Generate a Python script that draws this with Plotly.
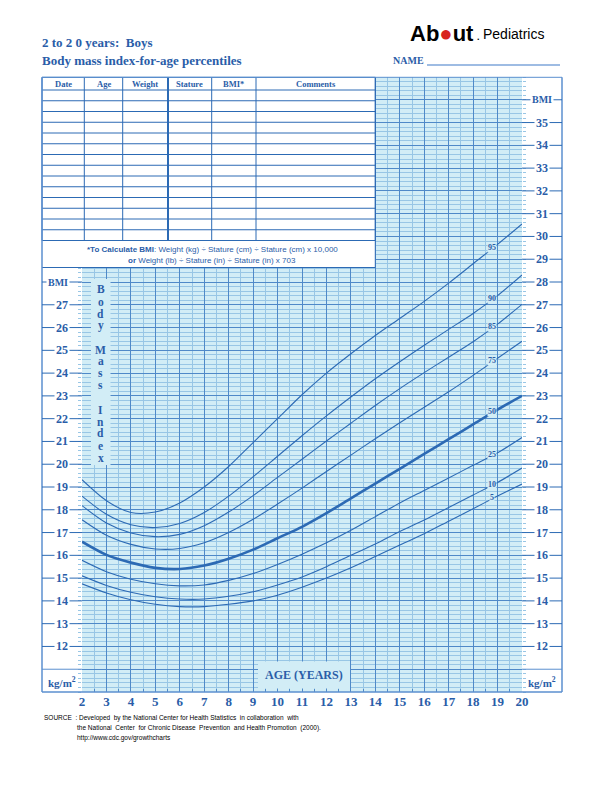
import numpy as np
import plotly.graph_objects as go

# percentile curves, BMI (kg/m2) at whole years
ages = [2, 3, 4, 5, 6, 7, 8, 9, 10, 11, 12, 13, 14, 15, 16, 17, 18, 19, 20]
p5 = [14.75, 14.35, 14.05, 13.85, 13.75, 13.75, 13.85, 14.00, 14.25, 14.60, 15.00, 15.45, 15.95, 16.45, 16.95, 17.50, 18.05, 18.60, 19.13]
p10 = [15.10, 14.68, 14.38, 14.18, 14.08, 14.08, 14.20, 14.40, 14.70, 15.05, 15.50, 16.00, 16.50, 17.05, 17.55, 18.10, 18.65, 19.20, 19.83]
p25 = [15.78, 15.28, 14.95, 14.75, 14.66, 14.70, 14.90, 15.20, 15.60, 16.05, 16.55, 17.10, 17.70, 18.30, 18.85, 19.40, 19.95, 20.50, 21.17]
p50 = [16.60, 16.02, 15.68, 15.45, 15.40, 15.55, 15.85, 16.25, 16.75, 17.25, 17.85, 18.50, 19.15, 19.80, 20.45, 21.10, 21.75, 22.40, 23.00]
p75 = [17.56, 16.88, 16.48, 16.28, 16.30, 16.55, 17.00, 17.58, 18.25, 18.95, 19.68, 20.40, 21.12, 21.82, 22.50, 23.18, 23.90, 24.65, 25.40]
p85 = [18.18, 17.42, 16.98, 16.82, 16.92, 17.30, 17.90, 18.62, 19.42, 20.22, 21.02, 21.80, 22.58, 23.32, 24.02, 24.70, 25.38, 26.15, 27.02]
p90 = [18.60, 17.80, 17.34, 17.22, 17.40, 17.88, 18.60, 19.45, 20.35, 21.25, 22.12, 22.95, 23.75, 24.50, 25.22, 25.92, 26.62, 27.40, 28.31]
p95 = [19.32, 18.40, 17.88, 17.90, 18.30, 19.00, 19.90, 20.95, 22.00, 23.05, 24.00, 24.85, 25.65, 26.40, 27.15, 27.95, 28.80, 29.65, 30.55]

curves = [('5', p5), ('10', p10), ('25', p25), ('50', p50),
          ('75', p75), ('85', p85), ('90', p90), ('95', p95)]

age_ticks = list(range(2, 21))
bmi_left = list(range(12, 28))
bmi_right = list(range(12, 36))
headers = ['Date', 'Age', 'Weight', 'Stature', 'BMI*', 'Comments']
side_word = 'Body Mass Index'

BLUE = '#2a5da8'
LINE = '#2c6ab4'
FRAME = '#5b8fcf'
BG = '#d2edf6'
GMAJ = '#4f89c8'
GMIN = '#98c6e5'
SERIF = 'Liberation Serif'
SANS = 'Liberation Sans'

W, H = 612, 792
L, R, T, B = 82, 90, 77, 100


def px(x):
    return (x - L) / (W - L - R)


def py(y):
    return (H - B - y) / (H - T - B)


def by(v):
    return (v - 10) / 27.0


def line(x0, y0, x1, y1, color=FRAME, width=1):
    return dict(type='line', xref='paper', yref='paper', x0=x0, y0=y0, x1=x1, y1=y1,
                line=dict(color=color, width=width), layer='above')


def rect(x0, y0, x1, y1, fill):
    return dict(type='rect', xref='paper', yref='paper', x0=x0, y0=y0, x1=x1, y1=y1,
                fillcolor=fill, line=dict(width=0), layer='above')


def text(x, y, s, size=9, color=BLUE, family=SERIF, weight='bold', **kw):
    a = dict(xref='paper', yref='paper', x=x, y=y, text=s, showarrow=False,
             xanchor='center', yanchor='middle',
             font=dict(family=family, size=size, color=color, weight=weight))
    a.update(kw)
    return a


fig = go.Figure()

for name, vals in curves:
    fig.add_trace(go.Scatter(x=ages, y=vals, mode='lines', hoverinfo='skip', showlegend=False,
                             line=dict(color=LINE, width=2.6 if name == '50' else 1.1,
                                       shape='spline', smoothing=0.8)))

shapes = []
ann = []

# white table over the upper-left of the grid
tx = [42, 84.3, 122.7, 168, 211.7, 256, 375.3]
ty = [77.3, 90] + [90 + 10.75 * i for i in range(1, 15)]
shapes.append(rect(px(42), py(77.3), px(375.3), py(267.5), 'white'))
for x in tx:
    shapes.append(line(px(x), py(77.3), px(x), py(ty[-1]), LINE, 2 if x == 168 else 1))
for y in ty:
    shapes.append(line(px(42), py(y), px(375.3), py(y), LINE, 1))
shapes.append(line(px(375.3), py(77.3), px(375.3), py(267.5), LINE, 1))
shapes.append(line(px(42), py(267.5), px(375.3), py(267.5), LINE, 1))
for i, h in enumerate(headers):
    ann.append(text(px((tx[i] + tx[i + 1]) / 2), py(84), h, size=8.5))
ann.append(text(px(212), py(250), '<b>*To Calculate BMI</b>: Weight (kg) ÷ Stature (cm) ÷ Stature (cm) x 10,000',
                size=8, family=SANS, weight='normal'))
ann.append(text(px(212), py(260), '<b>or</b> Weight (lb) ÷ Stature (in) ÷ Stature (in) x 703',
                size=8, family=SANS, weight='normal'))

# outer frame and side columns
shapes.append(line(px(42), py(77.3), px(562), py(77.3)))
shapes.append(line(px(42), py(77.3), px(42), py(692), width=1.5))
shapes.append(line(px(562), py(77.3), px(562), py(692), width=1.5))
shapes.append(line(px(42), py(692), px(562), py(692), width=1.5))
shapes.append(line(px(42), by(11), px(82), by(11)))
shapes.append(line(px(522), by(11), px(562), by(11)))

for v in bmi_left:
    shapes.append(line(px(42), by(v), px(82), by(v), LINE, 1))
    ann.append(text(px(62), by(v), str(v), size=12, bgcolor='white', borderpad=1))
shapes.append(line(px(42), by(28), px(82), by(28), LINE, 1))
ann.append(text(px(58), by(28), 'BMI', size=10, bgcolor='white', borderpad=1))
for v in bmi_right:
    shapes.append(line(px(522), by(v), px(562), by(v), LINE, 1))
    ann.append(text(px(542), by(v), str(v), size=12, bgcolor='white', borderpad=1))
shapes.append(line(px(522), by(36), px(562), by(36), LINE, 1))
ann.append(text(px(542), by(36), 'BMI', size=10, bgcolor='white', borderpad=1))
ann.append(text(px(62), py(682), 'kg/m<sup>2</sup>', size=11))
ann.append(text(px(542), py(682), 'kg/m<sup>2</sup>', size=11))

# "Body Mass Index" column
shapes.append(rect(px(91), py(279), px(110.5), py(465), BG))
letter_y = [289, 302, 313.5, 325.5, None, 350, 361, 373, 385, None, 409.5, 421.5, 433.5, 446, 458]
for ch, y in zip(side_word, letter_y):
    if y is not None:
        ann.append(text(px(100.5), py(y), ch, size=11.5))

# AGE (YEARS) box
shapes.append(rect(px(258), py(661.5), px(350), py(688.5), BG))
ann.append(text(px(304), py(675), 'AGE (YEARS)', size=12))

# percentile labels on the curves
for name, vals in curves:
    ann.append(dict(x=18.78, y=float(np.interp(18.78, ages, vals)) + 0.05, xref='x', yref='y',
                    text=name, showarrow=False, bgcolor=BG, borderpad=0,
                    xanchor='center', yanchor='middle',
                    font=dict(family=SERIF, size=8, color=BLUE, weight='bold')))

# header
ann.append(text(px(40), py(42), '2 to 2 0 years:  Boys', size=13, xanchor='left'))
ann.append(text(px(40), py(60), 'Body mass index-for-age percentiles', size=13, xanchor='left'))
ann.append(text(px(391), py(61), 'NAME', size=10, xanchor='left'))
shapes.append(line(px(427), py(65), px(560), py(65), '#7ea6da', 1.5))
ann.append(text(px(408), py(33), 'Ab<span style="color:#d8231b">●</span>ut', size=22, color='black',
                family=SANS, xanchor='left'))
ann.append(text(px(475), py(37), '.', size=9, color='black', family=SANS, xanchor='left'))
ann.append(text(px(481), py(34), 'Pediatrics', size=14, color='black', family=SANS,
                weight='normal', xanchor='left'))

# source
ann.append(text(px(42), py(718), 'SOURCE  : Developed  by the National Center for Health Statistics  in collaboration  with',
                size=6.5, color='black', family=SANS, weight='normal', xanchor='left'))
ann.append(text(px(75), py(728), 'the National  Center  for Chronic Disease  Prevention  and Health Promotion  (2000).',
                size=6.5, color='black', family=SANS, weight='normal', xanchor='left'))
ann.append(text(px(75), py(738), 'http://www.cdc.gov/growthcharts',
                size=6.5, color='black', family=SANS, weight='normal', xanchor='left'))

fig.update_layout(
    width=W, height=H, margin=dict(l=L, r=R, t=T, b=B, pad=0),
    paper_bgcolor='white', plot_bgcolor=BG,
    shapes=shapes, annotations=ann,
    xaxis=dict(range=[2, 20], tickvals=age_ticks, showline=False, zeroline=False,
               showgrid=True, gridcolor=GMAJ, gridwidth=1.2,
               ticks='inside', ticklen=4, tickcolor=GMAJ,
               tickfont=dict(family=SERIF, size=13, color=BLUE, weight='bold'),
               minor=dict(dtick=0.5, showgrid=True, gridcolor=GMIN, gridwidth=0.8,
                          ticks='inside', ticklen=3, tickcolor=GMAJ)),
    yaxis=dict(range=[10, 37], dtick=1, showticklabels=False, showline=False, zeroline=False,
               showgrid=True, gridcolor=GMAJ, gridwidth=1.2,
               ticks='outside', ticklen=3, tickcolor=GMIN, mirror='ticks',
               minor=dict(dtick=0.2, showgrid=True, gridcolor=GMIN, gridwidth=0.8,
                          ticks='outside', ticklen=3, tickcolor=GMIN)),
)

fig.write_html("out.html", config={'displayModeBar': False},
               post_script="document.body.style.margin='0';")
